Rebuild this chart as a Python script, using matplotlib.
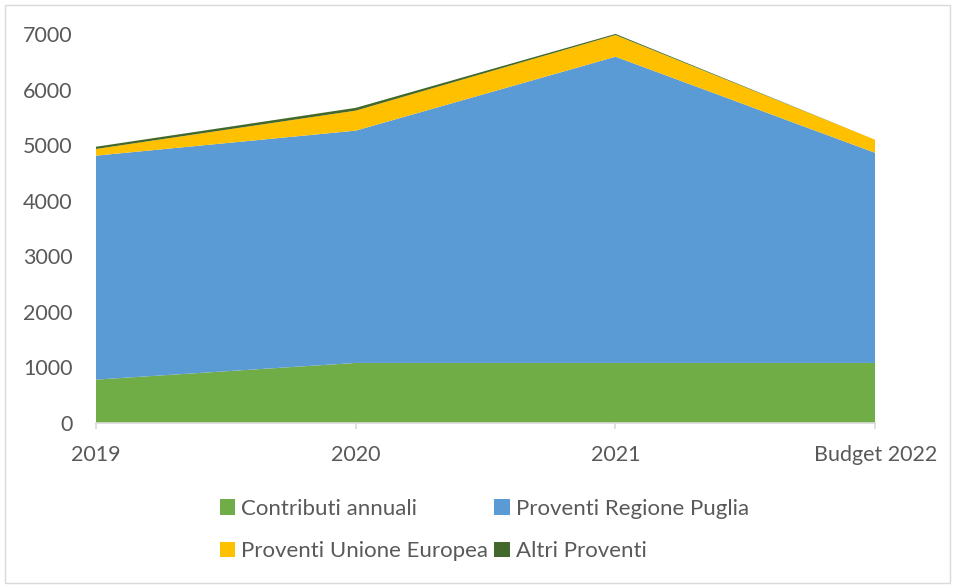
import matplotlib
matplotlib.use('Agg')
import matplotlib.pyplot as plt
from matplotlib.patches import Patch, Rectangle

plt.rcParams['font.family'] = ['Lato', 'DejaVu Sans']

# dati (migliaia di euro)
anni = ["2019", "2020", "2021", "Budget 2022"]
contributi = [780, 1080, 1080, 1080]
regione = [4030, 4180, 5510, 3780]
ue = [120, 360, 390, 235]
altri = [40, 50, 20, 0]

serie = ["Contributi annuali", "Proventi Regione Puglia",
         "Proventi Unione Europea", "Altri Proventi"]
colori = ["#70AD47", "#5B9BD5", "#FFC000", "#43682B"]

fig = plt.figure(figsize=(9.55, 5.85), dpi=100)
ax = fig.add_axes([0.1005, 0.277, 0.816, 0.665])

x = list(range(len(anni)))
ax.stackplot(x, contributi, regione, ue, altri, colors=colori, linewidth=0)

ax.set_xlim(0, len(anni) - 1)
ax.set_ylim(0, 7000)
ax.set_yticks(range(0, 7001, 1000))
ax.set_xticks(x)
ax.set_xticklabels(anni)

for s in ["top", "right", "left"]:
    ax.spines[s].set_visible(False)
ax.spines["bottom"].set_color("#D9D9D9")
ax.spines["bottom"].set_linewidth(1.2)
ax.tick_params(axis="y", length=0, pad=17, labelsize=15.5, labelcolor="#595959")
ax.tick_params(axis="x", length=4, width=1.2, color="#D9D9D9", direction="out",
               pad=12, labelsize=15.5, labelcolor="#595959")

# legenda su due righe
h = [Patch(facecolor=c, edgecolor="none") for c in colori]
ordine = [0, 2, 1, 3]
fig.legend([h[i] for i in ordine], [serie[i] for i in ordine], ncol=2,
           loc="center", bbox_to_anchor=(0.507, 0.094), frameon=False,
           fontsize=16, labelcolor="#595959", handlelength=0.7,
           handleheight=0.7, handletextpad=0.25, columnspacing=0.3,
           labelspacing=1.0)

# bordo del grafico
fig.patches.append(Rectangle((0.005, 0.004), 0.99, 0.988, transform=fig.transFigure,
                             fill=False, edgecolor="#D9D9D9", linewidth=1))

fig.savefig("out.png", dpi=100)
